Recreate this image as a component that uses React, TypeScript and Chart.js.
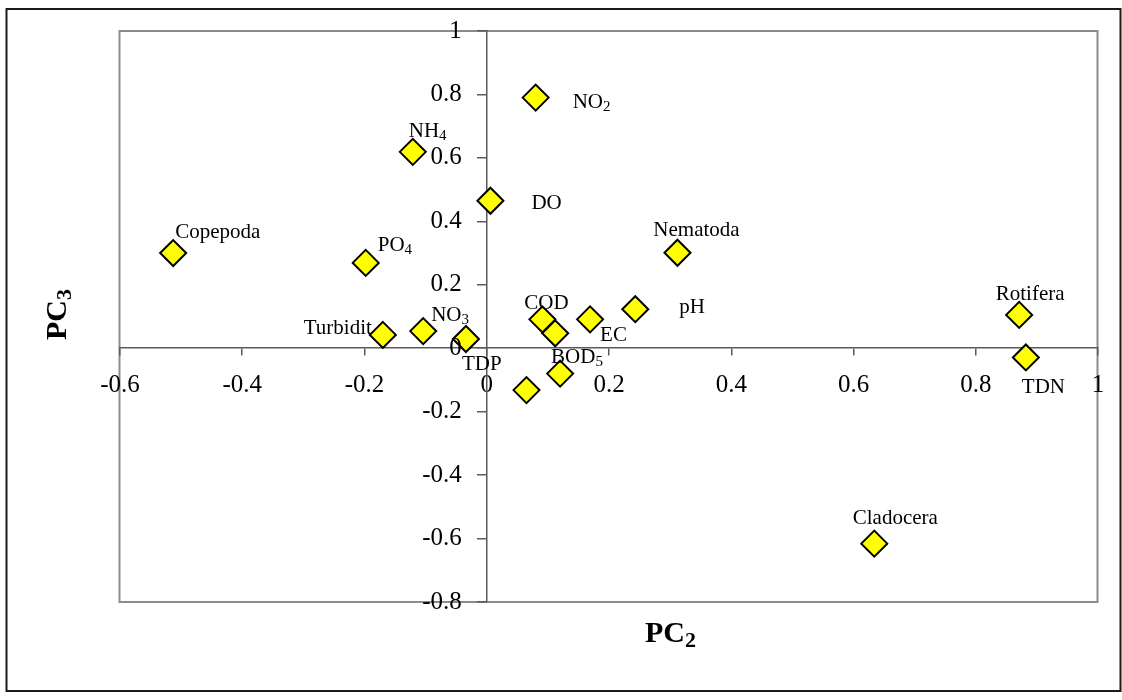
import React, { useEffect, useRef } from 'react';
import { Chart, registerables } from 'chart.js';

Chart.register(...registerables);

// ---- data (PC2 = x, PC3 = y) ----
const pointNames = [
  'NO_2', 'NH_4', 'DO', 'Copepoda', 'PO_4', 'Nematoda', 'Turbidit', 'NO_3', 'TDP',
  'COD', '', 'EC', 'pH', 'BOD_5', '', 'Rotifera', 'TDN', 'Cladocera',
];
const pc2Values = [
  0.080, -0.121, 0.006, -0.513, -0.198, 0.312, -0.170, -0.104, -0.034,
  0.091, 0.112, 0.169, 0.243, 0.120, 0.065, 0.871, 0.882, 0.634,
];
const pc3Values = [
  0.790, 0.619, 0.465, 0.300, 0.269, 0.301, 0.042, 0.054, 0.029,
  0.091, 0.047, 0.091, 0.123, -0.080, -0.132, 0.105, -0.029, -0.616,
];
const xTickRange = [-0.6, 1.0];
const yTickRange = [-0.8, 1.0];
const tickStep = 0.2;

// label placement relative to each point: [dx, dy(baseline), align]
const labelPlacement: [number, number, CanvasTextAlign][] = [
  [37, 10, 'left'], [-4, -15, 'left'], [41, 8, 'left'], [2, -15, 'left'],
  [12, -12, 'left'], [19, -17, 'center'], [-11, -1, 'right'], [8, -10, 'left'],
  [-4, 31, 'left'], [4, -10, 'center'], [0, 0, 'left'], [10, 22, 'left'],
  [44, 4, 'left'], [-9, -11, 'left'], [0, 0, 'left'], [11, -15, 'center'],
  [-4, 36, 'left'], [21, -20, 'center'],
];

const SERIF = "'Liberation Serif', 'Times New Roman', Times, serif";
const TICK_FONT = 25;

const fmt = (v: any) => String(Math.round(Number(v) * 10) / 10);

function drawSubText(
  ctx: CanvasRenderingContext2D,
  text: string,
  x: number,
  y: number,
  align: CanvasTextAlign,
  size: number,
  subSize: number,
  subShift: number,
  weight: string
) {
  const [base, sub = ''] = text.split('_');
  ctx.font = `${weight} ${size}px ${SERIF}`;
  const wb = ctx.measureText(base).width;
  ctx.font = `${weight} ${subSize}px ${SERIF}`;
  const ws = sub ? ctx.measureText(sub).width : 0;
  const total = wb + ws;
  const left = align === 'left' ? x : align === 'right' ? x - total : x - total / 2;
  ctx.textAlign = 'left';
  ctx.textBaseline = 'alphabetic';
  ctx.font = `${weight} ${size}px ${SERIF}`;
  ctx.fillText(base, left, y);
  if (sub) {
    ctx.font = `${weight} ${subSize}px ${SERIF}`;
    ctx.fillText(sub, left + wb, y + subShift);
  }
}

const framePlugin = {
  id: 'frame',
  beforeDraw(chart: any) {
    const { ctx, chartArea } = chart;
    ctx.save();
    ctx.fillStyle = '#ffffff';
    ctx.fillRect(0, 0, chart.width, chart.height);
    ctx.strokeStyle = '#1a1a1a';
    ctx.lineWidth = 2;
    ctx.strokeRect(6.5, 9, 1114, 682);
    ctx.strokeStyle = '#8c8c8c';
    ctx.lineWidth = 2;
    ctx.strokeRect(
      chartArea.left - 0.5,
      chartArea.top,
      chartArea.right - chartArea.left,
      chartArea.bottom - chartArea.top
    );
    ctx.restore();
  },
  afterDraw(chart: any) {
    const { ctx } = chart;
    ctx.save();
    ctx.fillStyle = '#000000';
    // y-axis tick labels
    const ys = chart.scales.y;
    const xs = chart.scales.x;
    const axisX = xs.getPixelForValue(0);
    ctx.font = `${TICK_FONT}px ${SERIF}`;
    ctx.textAlign = 'right';
    ctx.textBaseline = 'middle';
    ys.ticks.forEach((t: any) => {
      ctx.fillText(fmt(t.value), axisX - 25, ys.getPixelForValue(t.value));
    });
    // axis titles
    drawSubText(ctx, 'PC_2', 645, 642, 'left', 30, 22, 5, 'bold');
    ctx.translate(66, 340);
    ctx.rotate(-Math.PI / 2);
    drawSubText(ctx, 'PC_3', 0, 0, 'left', 30, 22, 5, 'bold');
    ctx.restore();
  },
};

const labelPlugin = {
  id: 'pointLabels',
  afterDatasetsDraw(chart: any) {
    const { ctx } = chart;
    const meta = chart.getDatasetMeta(0);
    ctx.save();
    ctx.fillStyle = '#000000';
    meta.data.forEach((pt: any, i: number) => {
      const name = pointNames[i];
      if (!name) return;
      const [dx, dy, align] = labelPlacement[i];
      drawSubText(ctx, name, pt.x + dx, pt.y + dy, align, 21, 15, 3, 'normal');
    });
    ctx.restore();
  },
};

export default function App() {
  const ref = useRef<HTMLCanvasElement | null>(null);

  useEffect(() => {
    if (!ref.current) return;
    const chart = new Chart(ref.current, {
      type: 'scatter',
      data: {
        datasets: [
          {
            data: pc2Values.map((x, i) => ({ x, y: pc3Values[i] })),
            pointStyle: 'rectRot',
            pointRadius: 13,
            pointHoverRadius: 13,
            pointBackgroundColor: '#ffff00',
            pointBorderColor: '#000000',
            pointBorderWidth: 2,
          },
        ],
      },
      options: {
        responsive: false,
        animation: false,
        events: [],
        layout: { padding: { left: 120, top: 31, right: 24, bottom: 98 } },
        plugins: { legend: { display: false }, tooltip: { enabled: false } },
        scales: {
          x: {
            type: 'linear',
            position: { y: 0 } as any,
            min: xTickRange[0],
            max: xTickRange[1],
            ticks: {
              stepSize: tickStep,
              callback: fmt,
              color: '#000000',
              font: { family: SERIF, size: TICK_FONT },
              padding: 15,
              maxRotation: 0,
            },
            grid: {
              display: true,
              drawOnChartArea: false,
              drawTicks: true,
              tickLength: 7,
              color: '#5a5a5a',
              lineWidth: 1.5,
            },
            border: { display: true, color: '#5a5a5a', width: 1.5 },
          },
          y: {
            type: 'linear',
            position: { x: 0 } as any,
            min: yTickRange[0],
            max: yTickRange[1],
            ticks: {
              stepSize: tickStep,
              display: false,
            },
            grid: {
              display: true,
              drawOnChartArea: false,
              drawTicks: true,
              tickLength: 9,
              color: '#5a5a5a',
              lineWidth: 1.5,
            },
            border: { display: true, color: '#5a5a5a', width: 1.5 },
          },
        },
      },
      plugins: [framePlugin, labelPlugin],
    });
    return () => chart.destroy();
  }, []);

  return (
    <div style={{ position: 'absolute', left: 0, top: 0, width: 1122, height: 700 }}>
      <canvas ref={ref} width={1122} height={700} style={{ display: 'block' }} />
    </div>
  );
}
